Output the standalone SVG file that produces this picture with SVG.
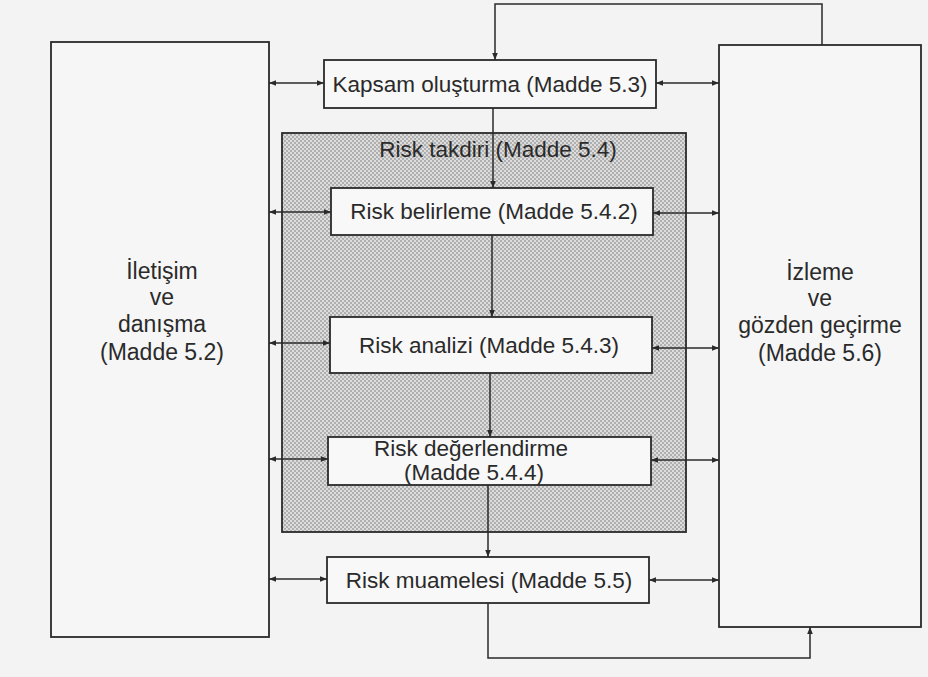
<svg xmlns="http://www.w3.org/2000/svg" width="928" height="677" viewBox="0 0 928 677">
<style>
.box{fill:#f8f8f8;stroke:#2a2a2a;stroke-width:1.8}
.big{fill:#f6f6f6;stroke:#2a2a2a;stroke-width:1.8}
.t{font-family:"Liberation Sans",Arial,sans-serif;font-size:22.5px;fill:#2a2a2a;text-anchor:middle}
.s{font-family:"Liberation Sans",Arial,sans-serif;font-size:23px;fill:#2a2a2a;text-anchor:middle}
.c{fill:none;stroke:#2a2a2a;stroke-width:1.5}
.d{marker-start:url(#ah);marker-end:url(#ah)}
.e{marker-end:url(#ah)}
</style>
<defs>
<pattern id="dots" width="4" height="4" patternUnits="userSpaceOnUse">
<rect width="4" height="4" fill="#dcdcdc"/>
<circle cx="1" cy="1" r="0.9" fill="#9a9a9a"/>
<circle cx="3" cy="3" r="0.9" fill="#9a9a9a"/>
</pattern>
<marker id="ah" viewBox="0 0 10 10" refX="10" refY="5" markerWidth="7" markerHeight="7" markerUnits="userSpaceOnUse" orient="auto-start-reverse">
<path d="M0,1 L10,5 L0,9 Z" fill="#2a2a2a"/>
</marker>
</defs>
<rect width="928" height="677" fill="#f3f3f3"/>

<g id="iletisim">
<rect class="big" x="51" y="42" width="218" height="595"/>
<text class="s" x="162" y="279">İletişim</text>
<text class="s" x="162" y="305">ve</text>
<text class="s" x="162" y="332">danışma</text>
<text class="s" x="162" y="360">(Madde 5.2)</text>
</g>

<g id="izleme">
<rect class="big" x="719" y="45" width="202" height="582"/>
<text class="s" x="820" y="280">İzleme</text>
<text class="s" x="820" y="306">ve</text>
<text class="s" x="820" y="333">gözden geçirme</text>
<text class="s" x="820" y="361">(Madde 5.6)</text>
</g>

<g id="risk-takdiri">
<rect x="282" y="133" width="404" height="399" fill="url(#dots)" stroke="#2a2a2a" stroke-width="1.8"/>
<text class="t" x="498" y="157">Risk takdiri (Madde 5.4)</text>
</g>

<g id="kapsam">
<rect class="box" x="324" y="60" width="332" height="48"/>
<text class="t" x="490" y="92">Kapsam oluşturma (Madde 5.3)</text>
</g>

<g id="belirleme">
<rect class="box" x="331" y="188" width="322" height="47"/>
<text class="t" x="494" y="219">Risk belirleme (Madde 5.4.2)</text>
</g>

<g id="analizi">
<rect class="box" x="330" y="317" width="322" height="56"/>
<text class="t" x="489" y="353">Risk analizi (Madde 5.4.3)</text>
</g>

<g id="degerlendirme">
<rect class="box" x="328" y="437" width="323" height="48"/>
<text class="t" x="471" y="456">Risk değerlendirme</text>
<text class="t" x="474" y="480">(Madde 5.4.4)</text>
</g>

<g id="muamelesi">
<rect class="box" x="327" y="557" width="322" height="46"/>
<text class="t" x="489" y="588">Risk muamelesi (Madde 5.5)</text>
</g>

<g id="connectors">
<path class="c e" d="M822,45 V4 H495 V60"/>
<path class="c e" d="M493,108 V188"/>
<path class="c e" d="M492,235 V317"/>
<path class="c e" d="M490,373 V437"/>
<path class="c e" d="M488,485 V557"/>
<path class="c e" d="M488,603 V658 H810 V627"/>
<path class="c d" d="M269,83 H324"/>
<path class="c d" d="M269,212 H331"/>
<path class="c d" d="M269,343 H330"/>
<path class="c d" d="M269,459 H328"/>
<path class="c d" d="M269,579 H327"/>
<path class="c d" d="M656,83 H719"/>
<path class="c d" d="M653,213 H719"/>
<path class="c d" d="M652,348 H719"/>
<path class="c d" d="M651,460 H719"/>
<path class="c d" d="M649,580 H719"/>
</g>
</svg>
